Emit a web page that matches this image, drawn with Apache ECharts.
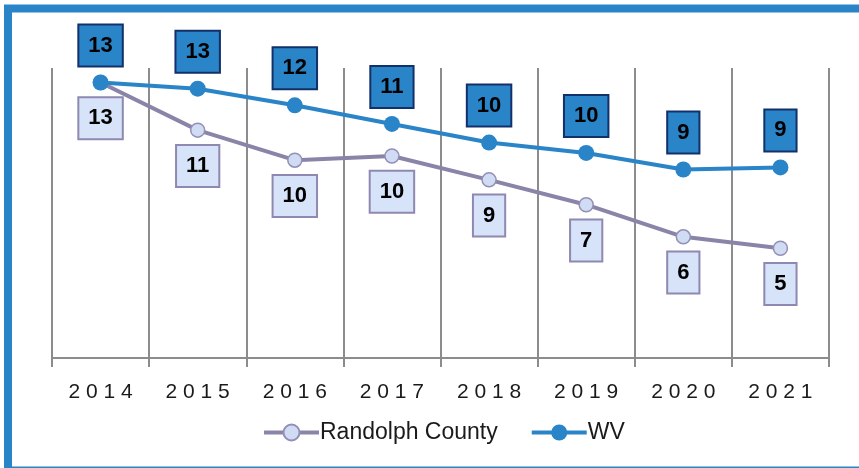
<!DOCTYPE html>
<html>
<head>
<meta charset="utf-8">
<style>
  html, body { margin: 0; padding: 0; background: #fff; overflow: hidden; }
  #chart { width: 859px; height: 468px; }
</style>
<script src="https://cdn.jsdelivr.net/npm/echarts@6/dist/echarts.min.js"></script>
</head>
<body>
<div id="chart"></div>
<script>
const years = ['2014', '2015', '2016', '2017', '2018', '2019', '2020', '2021']
const randolph = [13.3, 11.0, 9.55, 9.75, 8.6, 7.4, 5.85, 5.3]
const wv = [13.3, 13.0, 12.2, 11.3, 10.4, 9.9, 9.1, 9.2]

const blue = '#2a84c8'
const purple = '#8984a8'
const grid = '#8c8c8c'
const font = 'Liberation Sans, Arial, sans-serif'

const chart = echarts.init(document.getElementById('chart'))
chart.setOption({
  backgroundColor: '#fff',
  animation: false,
  graphic: [{
    type: 'rect',
    shape: { x: 8, y: 8.5, width: 900, height: 462 },
    style: { fill: 'none', stroke: blue, lineWidth: 8 },
    silent: true
  }],
  grid: { left: 52, right: 30, top: 68, bottom: 110 },
  legend: {
    left: 257,
    top: 416,
    itemWidth: 55,
    itemHeight: 20,
    itemGap: 32,
    lineStyle: { width: 4 },
    textStyle: { fontFamily: font, fontSize: 23, color: '#1a1a1a', padding: [0, 0, 0, -4] },
    data: ['Randolph County', 'WV']
  },
  xAxis: {
    type: 'category',
    data: years,
    boundaryGap: true,
    axisLine: { lineStyle: { color: grid, width: 2 } },
    axisTick: { show: true, length: 9, lineStyle: { color: grid, width: 2 } },
    splitLine: { show: true, lineStyle: { color: grid, width: 2 } },
    axisLabel: {
      margin: 24,
      fontFamily: font,
      fontSize: 21,
      color: '#1a1a1a',
      formatter: (v) => v.split('').join(' ')
    }
  },
  yAxis: {
    type: 'value',
    min: 0,
    max: 14,
    show: false,
    splitLine: { show: false }
  },
  series: [{
    name: 'Randolph County',
    type: 'line',
    data: randolph,
    symbol: 'circle',
    symbolSize: 14,
    lineStyle: { color: purple, width: 4 },
    itemStyle: { color: '#cfdcf3', borderColor: '#948fb6', borderWidth: 1.5 },
    label: {
      show: true,
      position: 'bottom',
      distance: 8,
      formatter: (p) => Math.round(p.value),
      fontFamily: font,
      fontWeight: 'bold',
      fontSize: 22,
      lineHeight: 22,
      color: '#000',
      backgroundColor: '#d6e3f8',
      borderColor: '#8f88b0',
      borderWidth: 2,
      padding: [9, 9, 9, 9]
    },
    z: 2
  }, {
    name: 'WV',
    type: 'line',
    data: wv,
    symbol: 'circle',
    symbolSize: 16,
    lineStyle: { color: blue, width: 4 },
    itemStyle: { color: blue },
    label: {
      show: true,
      position: 'top',
      distance: 9,
      formatter: (p) => Math.round(p.value),
      fontFamily: font,
      fontWeight: 'bold',
      fontSize: 22,
      lineHeight: 22,
      color: '#000',
      backgroundColor: blue,
      borderColor: '#12306a',
      borderWidth: 2,
      padding: [9, 9, 9, 9]
    },
    z: 3
  }]
})
</script>
</body>
</html>
